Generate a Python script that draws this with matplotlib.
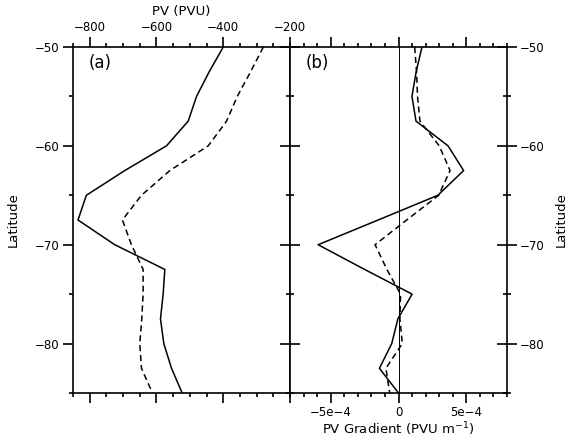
import numpy as np
import matplotlib
matplotlib.use("Agg")
import matplotlib.pyplot as plt
from matplotlib.ticker import MultipleLocator, FixedLocator, FixedFormatter

plt.rcParams['font.family'] = ['DejaVu Sans']
plt.rcParams['axes.unicode_minus'] = True

# latitude grid (every 2.5 deg)
lat = [-50, -52.5, -55, -57.5, -60, -62.5, -65, -67.5, -70, -72.5, -75, -77.5, -80, -82.5, -85]

# panel (a): PV (PVU)
pv_solid = [-400, -442, -480, -505, -570, -695, -810, -835, -725, -575, -580, -588, -578, -555, -523]
pv_dash = [-280, -318, -358, -390, -445, -560, -645, -702, -675, -640, -640, -644, -650, -645, -612]

# panel (b): PV gradient (PVU m-1)
grad_solid = [1.73e-4, 1.3e-4, 0.99e-4, 1.29e-4, 3.65e-4, 4.8e-4, 2.9e-4, -1.5e-4,
              -5.93e-4, -2.5e-4, 1.0e-4, -0.05e-4, -0.5e-4, -1.41e-4, 0.0]
grad_dash = [1.19e-4, 1.33e-4, 1.4e-4, 1.58e-4, 3.0e-4, 3.8e-4, 2.96e-4, 0.6e-4,
             -1.73e-4, -0.86e-4, 0.15e-4, 0.1e-4, 0.28e-4, -0.93e-4, -0.65e-4]

lat_ticks = [-50, -60, -70, -80]
grad_ticks = [-5e-4, 0, 5e-4]
grad_labels = ['\u22125e\u22124', '0', '5e\u22124']

fs = 8.5
lfs = 9.5
spine_lw = 1.2
line_lw = 1.1
dash = (0, (4, 2.5))

fig = plt.figure(figsize=(5.69, 4.40), dpi=100)
ax1 = fig.add_axes([0.1283, 0.1068, 0.3814, 0.7864])
ax2 = fig.add_axes([0.5097, 0.1068, 0.3814, 0.7864])

# ---- panel (a)
ax1.plot(pv_solid, lat, color='black', lw=line_lw)
ax1.plot(pv_dash, lat, color='black', lw=line_lw, linestyle=dash)
ax1.set_xlim(-850, -200)
ax1.set_ylim(-85, -50)
ax1.xaxis.set_major_locator(MultipleLocator(200))
ax1.xaxis.set_minor_locator(MultipleLocator(50))
ax1.yaxis.set_major_locator(FixedLocator(lat_ticks))
ax1.yaxis.set_minor_locator(MultipleLocator(5))
ax1.tick_params(axis='x', which='both', top=True, bottom=True, labeltop=True,
                labelbottom=False, direction='out', labelsize=fs, width=spine_lw)
ax1.tick_params(axis='y', which='both', left=True, right=False, direction='out',
                labelsize=fs, width=spine_lw)
ax1.tick_params(which='major', length=7.5, pad=2)
ax1.tick_params(which='minor', length=3)
ax1.xaxis.set_label_position('top')
ax1.set_xlabel('PV (PVU)', fontsize=lfs, labelpad=4)
ax1.set_ylabel('Latitude', fontsize=lfs, labelpad=11)
ax1.text(0.07, 0.98, '(a)', transform=ax1.transAxes, fontsize=12,
         ha='left', va='top')

# ---- panel (b)
ax2.axvline(0, color='black', lw=0.7)
ax2.plot(grad_solid, lat, color='black', lw=line_lw)
ax2.plot(grad_dash, lat, color='black', lw=line_lw, linestyle=dash)
ax2.set_xlim(-8e-4, 8e-4)
ax2.set_ylim(-85, -50)
ax2.xaxis.set_major_locator(FixedLocator(grad_ticks))
ax2.xaxis.set_major_formatter(FixedFormatter(grad_labels))
ax2.xaxis.set_minor_locator(MultipleLocator(1e-4))
ax2.yaxis.set_major_locator(FixedLocator(lat_ticks))
ax2.yaxis.set_minor_locator(MultipleLocator(5))
ax2.tick_params(axis='x', which='both', top=True, bottom=True, labeltop=False,
                labelbottom=True, direction='out', labelsize=fs, width=spine_lw)
ax2.tick_params(axis='y', which='both', left=True, right=True, labelleft=False,
                labelright=True, direction='out', labelsize=fs, width=spine_lw)
ax2.tick_params(which='major', length=7.5, pad=2)
ax2.tick_params(which='minor', length=3)
# ticks straddling the shared boundary
ax2.tick_params(axis='y', which='major', left=True, direction='inout', length=15)
ax2.tick_params(axis='y', which='minor', left=True, direction='inout', length=6)
ax2.yaxis.set_label_position('right')
ax2.set_ylabel('Latitude', fontsize=lfs, labelpad=7)
ax2.set_xlabel('PV Gradient (PVU m$^{-1}$)', fontsize=lfs, labelpad=1)
ax2.text(0.07, 0.98, '(b)', transform=ax2.transAxes, fontsize=12,
         ha='left', va='top')

for ax in (ax1, ax2):
    for s in ax.spines.values():
        s.set_linewidth(spine_lw)

fig.savefig('out.png', dpi=100)
